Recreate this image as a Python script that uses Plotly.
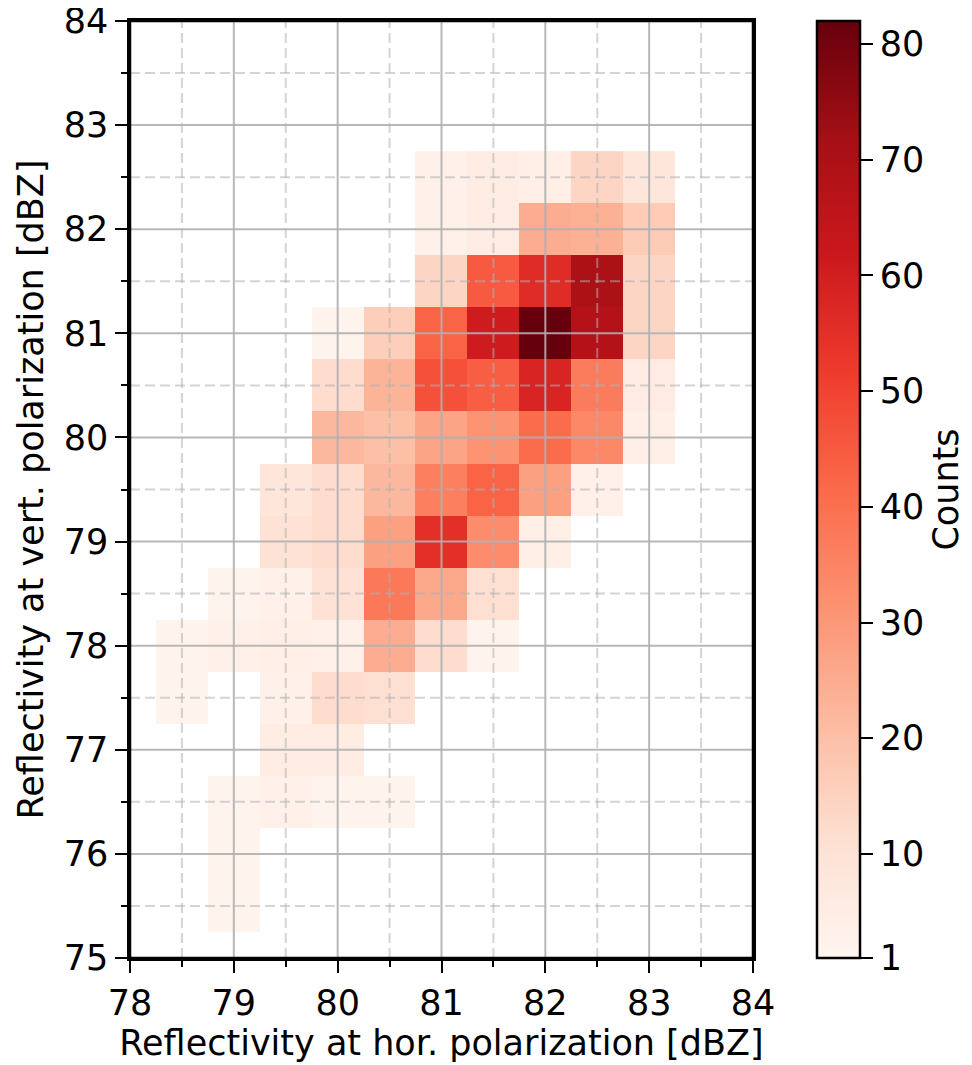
import plotly.graph_objects as go

# Bin centres (0.5 dBZ bins)
x_centers = [78.5, 79.0, 79.5, 80.0, 80.5, 81.0, 81.5, 82.0, 82.5, 83.0]
y_centers = [75.5, 76.0, 76.5, 77.0, 77.5, 78.0, 78.5, 79.0, 79.5, 80.0,
             80.5, 81.0, 81.5, 82.0, 82.5]

N = None
# counts per row (bottom to top), columns follow x_centers
row_75_5 = [N, 2, N, N, N, N, N, N, N, N]
row_76_0 = [N, 2, N, N, N, N, N, N, N, N]
row_76_5 = [N, 2, 3, 2, 2, N, N, N, N, N]
row_77_0 = [N, N, 5, 5, N, N, N, N, N, N]
row_77_5 = [2, N, 3, 12, 11, N, N, N, N, N]
row_78_0 = [2, 3, 4, 3, 25, 12, 2, N, N, N]
row_78_5 = [N, 2, 3, 10, 38, 26, 11, N, N, N]
row_79_0 = [N, N, 10, 12, 28, 55, 33, 4, N, N]
row_79_5 = [N, N, 8, 12, 22, 36, 43, 28, 3, N]
row_80_0 = [N, N, N, 22, 20, 27, 31, 41, 34, 4]
row_80_5 = [N, N, N, 12, 23, 47, 44, 58, 37, 6]
row_81_0 = [N, N, N, 2, 16, 43, 61, 82, 68, 14]
row_81_5 = [N, N, N, N, N, 14, 45, 56, 70, 14]
row_82_0 = [N, N, N, N, N, 3, 5, 25, 24, 17]
row_82_5 = [N, N, N, N, N, 3, 5, 4, 14, 8]

counts = [row_75_5, row_76_0, row_76_5, row_77_0, row_77_5, row_78_0,
          row_78_5, row_79_0, row_79_5, row_80_0, row_80_5, row_81_0,
          row_81_5, row_82_0, row_82_5]

x_ticks = [78, 79, 80, 81, 82, 83, 84]
y_ticks = [75, 76, 77, 78, 79, 80, 81, 82, 83, 84]
x_minor = [78.5, 79.5, 80.5, 81.5, 82.5, 83.5]
y_minor = [75.5, 76.5, 77.5, 78.5, 79.5, 80.5, 81.5, 82.5, 83.5]
cbar_ticks = [1, 10, 20, 30, 40, 50, 60, 70, 80]

reds = ["#fff5f0", "#fee0d2", "#fcbba1", "#fc9272", "#fb6a4a",
        "#ef3b2c", "#cb181d", "#a50f15", "#67000d"]
colorscale = [[i / (len(reds) - 1), c] for i, c in enumerate(reds)]

FONT = "DejaVu Sans"
FS = 35
XR = [78, 84]
YR = [75, 84]

fig = go.Figure()
fig.add_trace(go.Heatmap(
    x=x_centers, y=y_centers, z=counts,
    colorscale=colorscale, zmin=1, zmax=82,
    hoverongaps=False,
    colorbar=dict(
        x=1.1027, xanchor="left", xpad=0, ypad=0,
        y=0.5, yanchor="middle", len=1, lenmode="fraction",
        thickness=43, outlinewidth=2.5, outlinecolor="black",
        ticks="outside", ticklen=12, tickwidth=2, tickcolor="black",
        tickvals=cbar_ticks, tickfont=dict(family=FONT, size=FS, color="black"),
        title=dict(text="Counts", side="right",
                   font=dict(family=FONT, size=FS, color="black")),
    ),
))

# grid lines drawn above the heatmap (as in the reference)
major_line = dict(color="rgba(176,176,176,0.9)", width=2)
minor_line = dict(color="rgba(176,176,176,0.55)", width=2, dash="10px,5px")
for v in x_minor:
    fig.add_shape(type="line", x0=v, x1=v, y0=YR[0], y1=YR[1], xref="x", yref="y",
                  line=minor_line, layer="above")
for v in y_minor:
    fig.add_shape(type="line", y0=v, y1=v, x0=XR[0], x1=XR[1], xref="x", yref="y",
                  line=minor_line, layer="above")
for v in x_ticks[1:-1]:
    fig.add_shape(type="line", x0=v, x1=v, y0=YR[0], y1=YR[1], xref="x", yref="y",
                  line=major_line, layer="above")
for v in y_ticks[1:-1]:
    fig.add_shape(type="line", y0=v, y1=v, x0=XR[0], x1=XR[1], xref="x", yref="y",
                  line=major_line, layer="above")
# plot frame (matplotlib-style box)
fig.add_shape(type="rect", x0=XR[0], x1=XR[1], y0=YR[0], y1=YR[1],
              xref="x", yref="y", line=dict(color="black", width=2.5),
              layer="above")

axis_common = dict(
    showline=True, linecolor="black", linewidth=2.5, mirror=True,
    ticks="outside", ticklen=12, tickwidth=2, tickcolor="black",
    showgrid=False, zeroline=False, layer="above traces", automargin=False,
    ticklabeloverflow="allow",
    tickfont=dict(family=FONT, size=FS, color="black"),
    minor=dict(dtick=0.5, ticks="outside", ticklen=6, tickwidth=2,
               tickcolor="black", showgrid=False),
)

fig.update_xaxes(range=XR, tickvals=x_ticks,
                 title=dict(text="Reflectivity at hor. polarization [dBZ]",
                            font=dict(family=FONT, size=FS, color="black"),
                            standoff=8),
                 **axis_common)
fig.update_yaxes(range=YR, tickvals=y_ticks,
                 title=dict(text="Reflectivity at vert. polarization [dBZ]",
                            font=dict(family=FONT, size=FS, color="black"),
                            standoff=10),
                 **axis_common)

fig.update_layout(
    width=972, height=1065,
    margin=dict(l=122, r=227, t=13, b=115),
    paper_bgcolor="white", plot_bgcolor="white",
    font=dict(family=FONT, size=FS, color="black"),
)

fig.write_html("out.html")
